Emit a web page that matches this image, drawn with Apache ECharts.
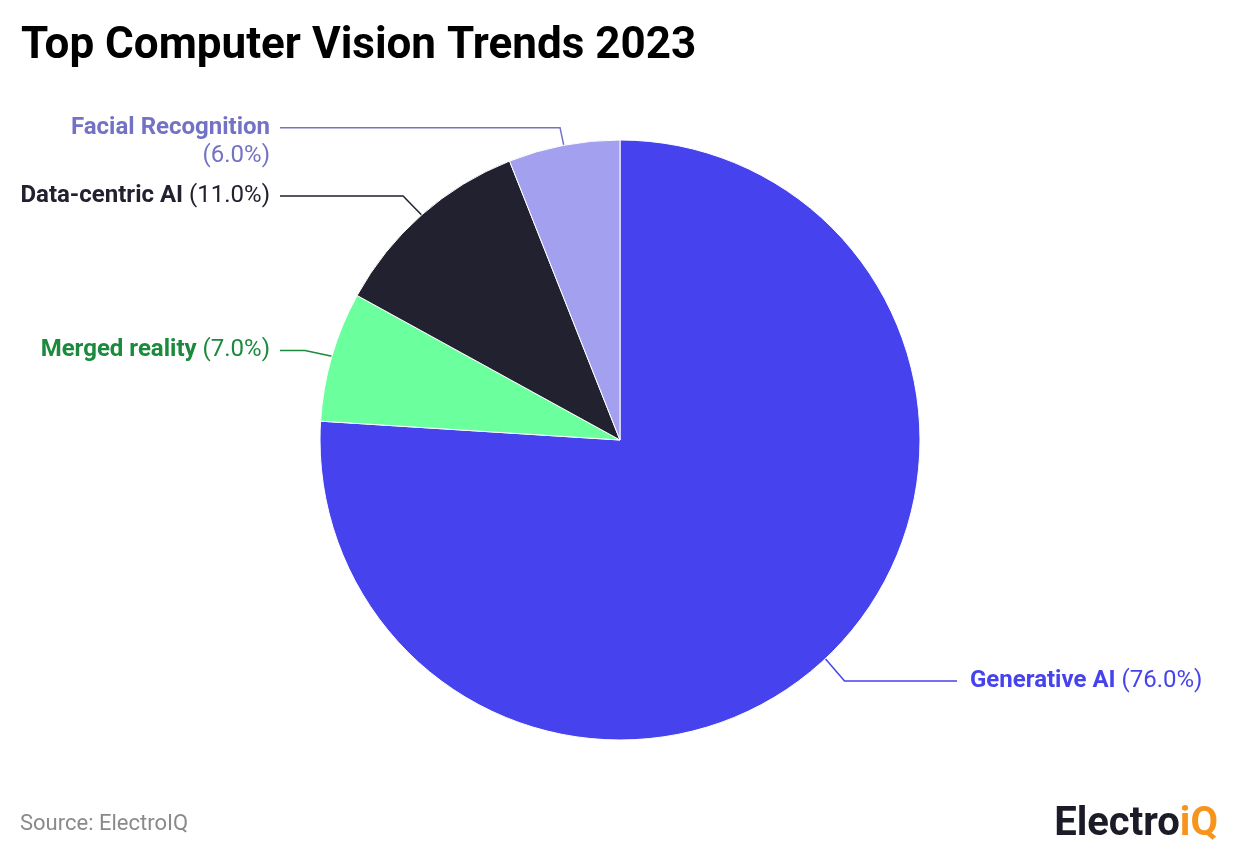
<!DOCTYPE html>
<html><head><meta charset="utf-8">
<script src="https://cdn.jsdelivr.net/npm/echarts@6/dist/echarts.min.js"></script>
<style>html,body{margin:0;padding:0;background:#fff}#c{width:1240px;height:856px}</style>
</head><body><div id="c"></div>
<script>
const categories = ['Generative AI', 'Merged reality', 'Data-centric AI', 'Facial Recognition'];
const values = [76, 7, 11, 6];
const sliceColors = ['#4643EE', '#6BFF9D', '#21212F', '#A3A1EF'];
const labelColors = ['#4643EE', '#1B8A3C', '#21212F', '#7472C4'];
const titleText = 'Top Computer Vision Trends 2023';
const sourceText = 'Source: ElectroIQ';

const CX = 620, CY = 440, R = 300;
const FONT = 'Roboto';
const chart = echarts.init(document.getElementById('c'), null, {renderer: 'canvas'});

const rich = {
  n: {fontFamily: FONT, fontSize: 24, fontWeight: 'bold', lineHeight: 28},
  p: {fontFamily: FONT, fontSize: 24, fontWeight: 'normal', lineHeight: 28}
};

const data = categories.map((name, i) => {
  const twoLine = name === 'Facial Recognition';
  return {
    name: name,
    value: values[i],
    itemStyle: {color: sliceColors[i]},
    label: {
      color: labelColors[i],
      formatter: function (p) {
        const pct = '(' + p.percent.toFixed(1) + '%)';
        return '{n|' + p.name + '}' + (twoLine ? '\n' : ' ') + '{p|' + pct + '}';
      },
      padding: twoLine ? [28, 0, 0, 0] : 0
    },
    labelLine: {lineStyle: {color: labelColors[i]}, length: twoLine ? 20 : 28}
  };
});

chart.setOption({
  animation: false,
  backgroundColor: '#ffffff',
  graphic: [
    {type: 'text', left: 21, top: 25, style: {text: titleText, font: 'bold 44px Roboto', fill: '#000000'}},
    {type: 'text', left: 20, top: 813, style: {text: sourceText, font: '22px Roboto', fill: '#8a8a8a'}},
    {type: 'text', right: 22, top: 805, style: {
      text: '{a|Electro}{b|iQ}',
      rich: {
        a: {font: 'bold 40px Roboto', fill: '#1c1c28'},
        b: {font: 'bold 40px Roboto', fill: '#F7941D'}
      }
    }}
  ],
  series: [{
    type: 'pie',
    center: [CX, CY],
    radius: R,
    startAngle: 90,
    clockwise: true,
    itemStyle: {borderColor: '#ffffff', borderWidth: 1},
    label: {
      show: true,
      position: 'outside',
      fontFamily: FONT,
      fontSize: 24,
      rich: rich
    },
    labelLine: {show: true, length: 28, length2: 20, lineStyle: {width: 1.5}},
    labelLayout: function (p) {
      const pts = p.labelLinePoints;
      if (!pts) return {};
      const left = pts[0][0] < CX;
      const endX = left ? CX - R - 40 : CX + R + 37;
      const tx = left ? endX - 10 : endX + 13;
      const y = pts[1][1] + 2;
      return {
        x: tx, y: y,
        align: left ? 'right' : 'left',
        verticalAlign: 'middle',
        labelLinePoints: [pts[0], [pts[1][0], y], [endX, y]]
      };
    },
    emphasis: {disabled: true},
    data: data
  }]
});
</script>
</body></html>
